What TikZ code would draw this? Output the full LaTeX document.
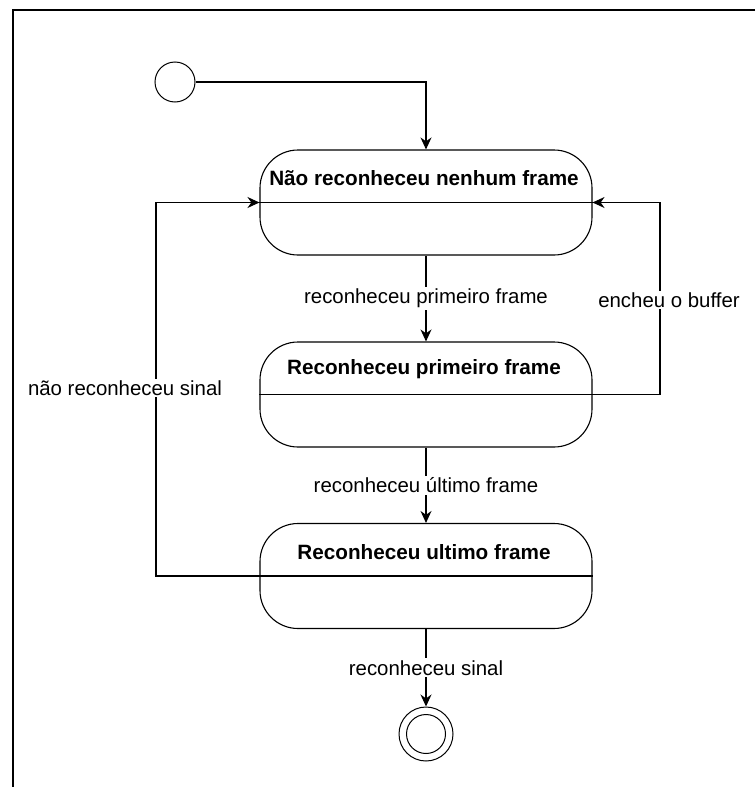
\documentclass[tikz,border=0pt]{standalone}
\usepackage{fontspec}
\setmainfont{Liberation Sans}
\usetikzlibrary{arrows.meta}
\begin{document}
\begin{tikzpicture}[x=1pt,y=-1pt,
  state/.style={draw, line width=1.1pt, rounded corners=38pt, minimum width=332pt, minimum height=105pt, inner sep=0pt},
  titletext/.style={font=\fontsize{20.7}{24}\selectfont\bfseries, inner sep=0pt},
  lbl/.style={font=\fontsize{20.4}{24}\selectfont, fill=white, inner sep=2pt},
  arr/.style={line width=1.1pt, -{Stealth[length=12pt,width=11pt]}},
  ln/.style={line width=1.1pt}]
\useasboundingbox (0,0) rectangle (755,787);
% frame
\draw[line width=2pt] (755,9.5) -- (12.5,9.5) -- (12.5,787);
% nodes
\node[circle, draw, line width=1pt, minimum size=40pt, inner sep=0pt] (init) at (175,82) {};
\node[state] (s1) at (426,202.5) {};
\node[titletext] (t1) at (424,178) {Não reconheceu nenhum frame};
\draw[ln] (s1.west) -- (s1.east);
\node[state] (s2) at (426,394.5) {};
\node[titletext] (t2) at (424,369) {Reconheceu primeiro frame};
\draw[ln] (s2.west) -- (s2.east);
\node[state] (s3) at (426,576) {};
\node[titletext] (t3) at (424,552) {Reconheceu ultimo frame};
\draw[ln] (s3.west) -- (s3.east);
\node[circle, draw, line width=1pt, minimum size=54pt, inner sep=0pt] (fin) at (426,734) {};
\node[circle, draw, line width=1pt, minimum size=39pt, inner sep=0pt] (finin) at (426,734) {};
% coordinates for loops
\coordinate (cr) at (660,300);
\coordinate (cl) at (156,390);
% edges
\draw[arr] (init.east) -| (s1.north);
\draw[arr] (s1.south) -- node[lbl] (l1) {reconheceu primeiro frame} (s2.north);
\draw[arr] (s2.south) -- node[lbl] (l2) {reconheceu último frame} (s3.north);
\draw[arr] (s3.south) -- node[lbl] (l3) {reconheceu sinal} (fin.north);
\draw[arr] (s2.east) -| (cr) |- (s1.east);
\draw[arr] (s3.west) -| (cl) |- (s1.west);
\node[lbl] (l4) at (669,300) {encheu o buffer};
\node[lbl] (l5) at (125,388) {não reconheceu sinal};
\end{tikzpicture}
\end{document}
